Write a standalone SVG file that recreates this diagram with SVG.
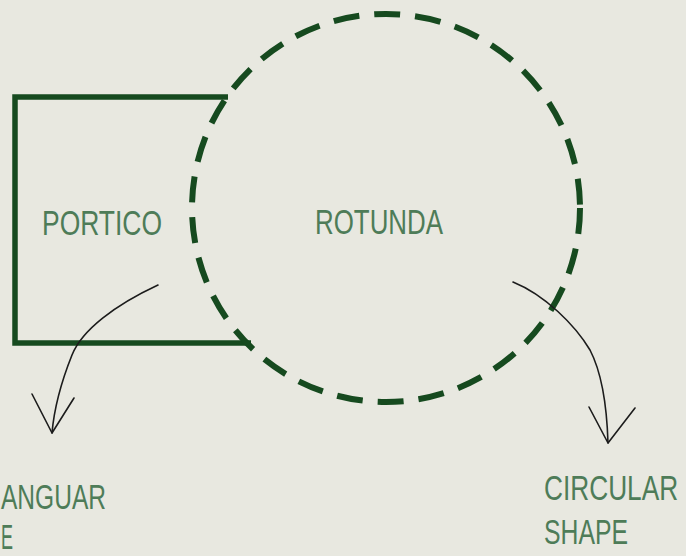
<svg xmlns="http://www.w3.org/2000/svg" width="686" height="556" viewBox="0 0 686 556">
<style>
.bg{fill:#e8e8e0}
.wall{fill:none;stroke:#164a1f;stroke-width:5.5}
.dash{fill:none;stroke:#164a1f;stroke-width:6;stroke-dasharray:26 15}
.lbl{font-family:"Liberation Sans",Arial,sans-serif;font-size:35px;fill:#4e7c58}
.arr{fill:none;stroke:#1c1c1c;stroke-width:1.6;stroke-linecap:round;stroke-linejoin:round}
</style>
<rect class="bg" x="0" y="0" width="686" height="556"/>
<g id="portico">
<path class="wall" d="M228,97 L15,97 L15,343 L251,343"/>
<text class="lbl" x="42" y="235" textLength="120" lengthAdjust="spacingAndGlyphs">PORTICO</text>
</g>
<g id="rotunda">
<circle class="dash" cx="386" cy="208" r="194"/>
<text class="lbl" x="315" y="234" textLength="128" lengthAdjust="spacingAndGlyphs">ROTUNDA</text>
</g>
<g id="rect-label">
<text class="lbl" x="1" y="509" textLength="105" lengthAdjust="spacingAndGlyphs">ANGUAR</text>
<text class="lbl" x="1" y="549" textLength="12" lengthAdjust="spacingAndGlyphs">E</text>
</g>
<g id="circ-label">
<text class="lbl" transform="translate(544,500) scale(0.75,1)" x="0" y="0">CIRCULAR</text>
<text class="lbl" x="544" y="544" textLength="84" lengthAdjust="spacingAndGlyphs">SHAPE</text>
</g>
<g id="connectors">
<path class="arr" d="M158,285 C115,305 82,330 72,355 C60,385 54,410 52,433"/>
<path class="arr" d="M32,394 L52,433 L74,398"/>
<path class="arr" d="M513,282 C545,295 575,325 590,350 C603,375 607,410 608,443"/>
<path class="arr" d="M589,407 L608,443 L635,408"/>
</g>
</svg>
